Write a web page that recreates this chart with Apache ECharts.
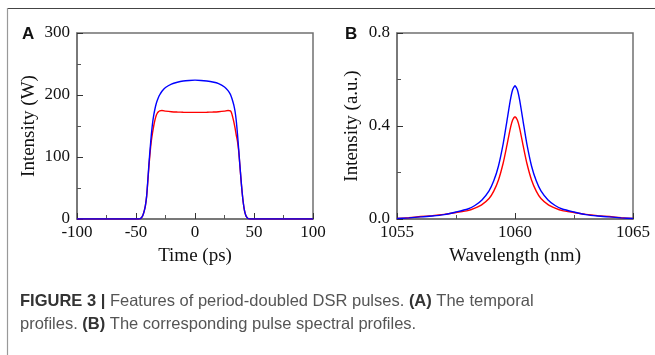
<!DOCTYPE html>
<html>
<head>
<meta charset="utf-8">
<script src="https://cdn.jsdelivr.net/npm/echarts@6/dist/echarts.min.js"></script>
<style>
  html, body { margin: 0; padding: 0; background: #fff; }
  #chart { width: 655px; height: 355px; }
</style>
</head>
<body>
<div id="chart"></div>
<script>
// panel A: temporal profiles (ps, W)
const timePs = [-100, -60, -50, -48, -47, -46, -45, -44, -43, -42, -41, -40, -39, -38, -37, -36, -35, -34, -33, -32, -31, -30, -28, -25, -20, -15, -10, -5, 0,
  5, 10, 15, 20, 25, 28, 30, 31, 32, 33, 34, 35, 36, 37, 38, 39, 40, 41, 42, 43, 44, 45, 46, 47, 48, 50, 60, 100]
const blueA = [0, 0, 0, 0, 0.3, 1, 3, 7, 13, 22, 37, 62, 90, 114, 136, 154, 167, 177, 185, 191, 196, 200, 206, 212, 217.5, 220.5, 222.5, 223.5, 224,
  223.5, 222.5, 221, 218.5, 213, 207, 201, 196, 190, 183, 173, 158, 137, 113, 88, 64, 42, 25, 13, 6, 2.5, 0.8, 0.2, 0, 0, 0, 0, 0]
const redA = [0, 0, 0, 0, 0.3, 1, 3, 7, 13, 22, 36, 60, 86, 108, 126, 139, 150, 159, 166, 170.5, 173, 174.5, 175, 174, 173, 172.5, 172.2, 172, 172,
  172, 172.2, 172.5, 173, 174, 175, 174.5, 171, 164, 156, 146, 135, 125, 110, 87, 63, 42, 25, 13, 6, 2.5, 0.8, 0.2, 0, 0, 0, 0, 0]

// panel B: spectral profiles (nm, a.u.)
const wavelength = [1055, 1055.5, 1056, 1056.5, 1057, 1057.5, 1058, 1058.3, 1058.6, 1058.9, 1059.1, 1059.3, 1059.5, 1059.65, 1059.8, 1059.9, 1060,
  1060.1, 1060.2, 1060.35, 1060.5, 1060.7, 1060.9, 1061.1, 1061.4, 1061.7, 1062, 1062.5, 1063, 1063.5, 1064, 1064.5, 1065]
const blueB = [0.002, 0.005, 0.009, 0.013, 0.019, 0.030, 0.043, 0.058, 0.082, 0.121, 0.164, 0.228, 0.324, 0.416, 0.510, 0.556, 0.573,
  0.556, 0.510, 0.416, 0.324, 0.228, 0.164, 0.121, 0.082, 0.058, 0.043, 0.030, 0.019, 0.013, 0.009, 0.005, 0.002]
const redB = [0.002, 0.0055, 0.0105, 0.0145, 0.020, 0.028, 0.036, 0.047, 0.062, 0.088, 0.120, 0.168, 0.241, 0.313, 0.389, 0.426, 0.440,
  0.426, 0.389, 0.313, 0.241, 0.168, 0.120, 0.088, 0.062, 0.047, 0.036, 0.028, 0.020, 0.0145, 0.0105, 0.0055, 0.002]

const serif = 'Liberation Serif'
const frameColor = '#707070'

const pairs = (xs, ys) => xs.map((x, i) => [x, ys[i]])

const axisBase = (extra) => Object.assign({
  type: 'value',
  axisLine: { show: true, onZero: false, lineStyle: { color: frameColor, width: 1.5 } },
  axisTick: { show: true, inside: true, length: 6, lineStyle: { color: '#333' } },
  minorTick: { show: true, splitNumber: 2, length: 4, lineStyle: { color: '#555' } },
  splitLine: { show: false },
  nameLocation: 'middle',
  nameTextStyle: { color: '#111', fontFamily: serif, fontSize: 19 }
}, extra)

const tickLabel = (margin, formatter) => ({ color: '#111', fontFamily: serif, fontSize: 17, margin, formatter })

const lineSeries = (name, data, color, xi) => ({
  name, type: 'line', data, xAxisIndex: xi, yAxisIndex: xi,
  showSymbol: false, smooth: 0.2,
  lineStyle: { color, width: 1.4 }
})

const chart = echarts.init(document.getElementById('chart'))
chart.setOption({
  animation: false,
  backgroundColor: '#fff',
  grid: [
    { left: 77, top: 33, width: 236, height: 186, show: true, borderColor: frameColor, borderWidth: 1.5 },
    { left: 397, top: 33, width: 236, height: 186, show: true, borderColor: frameColor, borderWidth: 1.5 }
  ],
  xAxis: [
    axisBase({ gridIndex: 0, min: -100, max: 100, interval: 50, name: 'Time (ps)', nameGap: 28,
      axisLabel: tickLabel(5, v => String(v)) }),
    axisBase({ gridIndex: 1, min: 1055, max: 1065, interval: 5, name: 'Wavelength (nm)', nameGap: 28,
      axisLabel: tickLabel(5, v => String(v)) })
  ],
  yAxis: [
    axisBase({ gridIndex: 0, min: 0, max: 300, interval: 100, name: 'Intensity (W)', nameGap: 38,
      axisLabel: tickLabel(7, v => String(v)) }),
    axisBase({ gridIndex: 1, min: 0, max: 0.8, interval: 0.4, name: 'Intensity (a.u.)', nameGap: 35,
      axisLabel: tickLabel(7, v => v.toFixed(1)) })
  ],
  series: [
    lineSeries('red A', pairs(timePs, redA), '#ff0000', 0),
    lineSeries('blue A', pairs(timePs, blueA), '#0000ff', 0),
    lineSeries('red B', pairs(wavelength, redB), '#ff0000', 1),
    lineSeries('blue B', pairs(wavelength, blueB), '#0000ff', 1)
  ],
  graphic: [
    // figure box
    { type: 'line', shape: { x1: 7, y1: 8.5, x2: 655, y2: 8.5 }, style: { stroke: '#444', lineWidth: 1.2 } },
    { type: 'line', shape: { x1: 7.5, y1: 8, x2: 7.5, y2: 355 }, style: { stroke: '#999', lineWidth: 1.2 } },
    // panel letters
    { type: 'text', left: 22, top: 26, style: { text: 'A', font: 'bold 17px "Liberation Sans"', fill: '#111' } },
    { type: 'text', left: 345, top: 26, style: { text: 'B', font: 'bold 17px "Liberation Sans"', fill: '#111' } },
    // caption
    {
      type: 'text', left: 20, top: 290,
      style: {
        text: '{b|FIGURE 3 |} {r|Features of period-doubled DSR pulses.} {b|(A)} {r|The temporal}\n{r|profiles.} {b|(B)} {r|The corresponding pulse spectral profiles.}',
        font: '16.5px "Liberation Sans"', fill: '#444', lineHeight: 23,
        rich: {
          b: { fontFamily: 'Liberation Sans', fontWeight: 'bold', fontSize: 16.5, fill: '#333', lineHeight: 23 },
          r: { fontFamily: 'Liberation Sans', fontSize: 16.5, fill: '#555', lineHeight: 23 }
        }
      }
    }
  ]
})
</script>
</body>
</html>
